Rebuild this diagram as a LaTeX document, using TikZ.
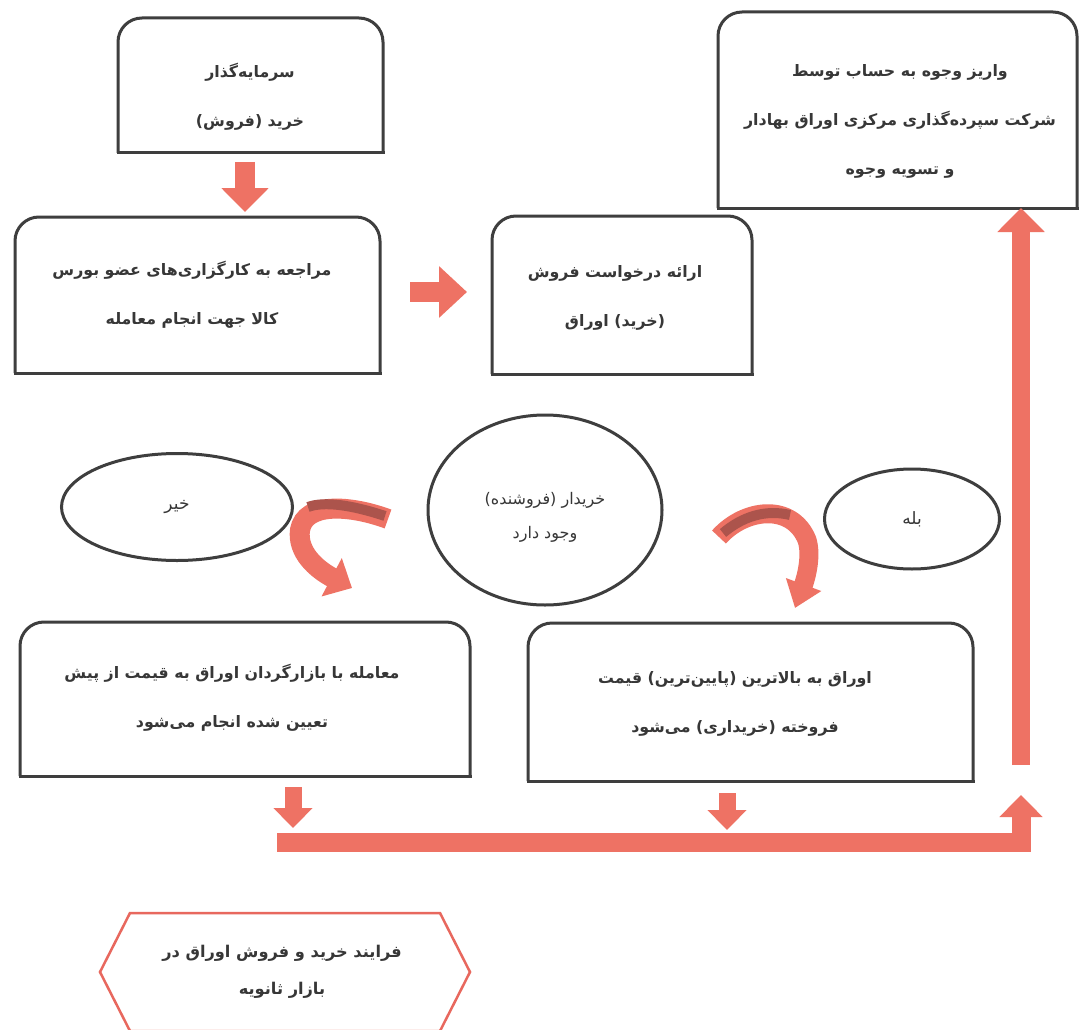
\documentclass[tikz,border=0pt]{standalone}
\usepackage{fontspec}
\newfontfamily\fa[Script=Arabic]{DejaVu Sans}
\TeXXeTstate=1
\usetikzlibrary{shapes.geometric,arrows.meta}
\definecolor{arr}{RGB}{238,114,100}
\definecolor{arrdark}{RGB}{172,84,76}
\definecolor{edgegray}{RGB}{62,62,62}
\definecolor{hexred}{RGB}{232,104,94}
\definecolor{inkgray}{RGB}{55,55,55}
\newcommand\R[1]{\beginR #1\endR}
\newcommand\toprounded[1]{%
  \draw[boxline, line cap=rect] (#1.south west) -- (#1.south east);
  \draw[boxline, rounded corners=24pt] (#1.south west) -- (#1.north west) -- (#1.north east) -- (#1.south east);}
\begin{document}
\begin{tikzpicture}[x=1pt,y=-1pt,
  boxshape/.style={rectangle, draw=none, inner sep=0pt, outer sep=0pt},
  boxline/.style={draw=edgegray, line width=3pt},
  txt/.style={font=\fa\bfseries\fontsize{15.8}{49}\selectfont, align=center, text=inkgray, inner sep=0pt},
  ell/.style={ellipse, draw=edgegray, line width=3pt, inner sep=0pt, align=center, text=inkgray, font=\fa\fontsize{16}{34}\selectfont},
  blk/.style={draw=arr, line join=miter},
  curvy/.style={draw=arr, line width=20pt},
  darkband/.style={draw=arrdark, line width=10pt},
  hexline/.style={draw=hexred, line width=2.5pt, line join=miter}]
\useasboundingbox (0,0) rectangle (1079,1030);
\fill[white] (0,0) rectangle (1079,1030);

% boxes
\node[boxshape, minimum width=265pt, minimum height=135pt] (b1) at (250.5,85.5) {};
\node[boxshape, minimum width=359pt, minimum height=196pt] (b2) at (897.5,110) {};
\node[boxshape, minimum width=365pt, minimum height=156pt] (b3) at (197.5,295) {};
\node[boxshape, minimum width=260pt, minimum height=158pt] (b4) at (622,295) {};
\node[boxshape, minimum width=450pt, minimum height=154pt] (b5) at (245,699) {};
\node[boxshape, minimum width=445pt, minimum height=158pt] (b6) at (750.5,702) {};
\toprounded{b1}
\toprounded{b2}
\toprounded{b3}
\toprounded{b4}
\toprounded{b5}
\toprounded{b6}

% box texts
\node[txt] (t1) at (250,97) {\R{سرمایه‌گذار}\\\R{خرید (فروش)}};
\node[txt] (t2) at (900,121) {\R{واریز وجوه به حساب توسط}\\\R{شرکت سپرده‌گذاری مرکزی اوراق بهادار}\\\R{و تسویه وجوه}};
\node[txt] (t3) at (192,295) {\R{مراجعه به کارگزاری‌های عضو بورس}\\\R{کالا جهت انجام معامله}};
\node[txt] (t4) at (615,298) {\R{ارائه درخواست فروش}\\\R{(خرید) اوراق}};
\node[txt] (t5) at (232,698) {\R{معامله با بازارگردان اوراق به قیمت از پیش}\\\R{تعیین شده انجام می‌شود}};
\node[txt] (t6) at (735,704) {\R{اوراق به بالاترین (پایین‌ترین) قیمت}\\\R{فروخته (خریداری) می‌شود}};

% ellipses
\node[ell, minimum width=231pt, minimum height=107pt, font=\fa\fontsize{17}{34}\selectfont] (e1) at (177,507) {\R{خیر}};
\node[ell, minimum width=234pt, minimum height=190pt] (e2) at (545,510) {};
\node[inner sep=0pt, align=center, text=inkgray, font=\fa\fontsize{16}{34}\selectfont] (e2t) at (545,517) {\R{خریدار (فروشنده)}\\\R{وجود دارد}};
\node[ell, minimum width=175pt, minimum height=100pt, font=\fa\fontsize{17}{34}\selectfont] (e3) at (912,519) {\R{بله}};

% hexagon
\node[boxshape, minimum width=310pt, minimum height=118pt, align=center, text=inkgray,
  font=\fa\bfseries\fontsize{16.2}{37}\selectfont] (hex) at (282,972) {\R{فرایند خرید و فروش اوراق در}\\\R{بازار ثانویه}};
\draw[hexline] ([xshift=3pt]hex.north west) -- ([xshift=3pt]hex.north east) -- ([xshift=33pt]hex.east) -- ([xshift=3pt]hex.south east)
  -- ([xshift=3pt]hex.south west) -- ([xshift=-27pt]hex.west) -- cycle;

% block arrows
\coordinate (a1s) at (245,162);
\coordinate (a1e) at (245,212);
\draw[blk, line width=20pt, -{Triangle[width=46pt,length=24pt]}] (a1s) -- (a1e);
\coordinate (a2s) at (410,292);
\coordinate (a2e) at (467,292);
\draw[blk, line width=20pt, -{Triangle[width=50pt,length=28pt]}] (a2s) -- (a2e);
\coordinate (a3s) at (293,787);
\coordinate (a3e) at (293,828);
\draw[blk, line width=17pt, -{Triangle[width=38pt,length=20pt]}] (a3s) -- (a3e);
\coordinate (a4s) at (727,793);
\coordinate (a4e) at (727,830);
\draw[blk, line width=17pt, -{Triangle[width=38pt,length=20pt]}] (a4s) -- (a4e);
\coordinate (barL) at (277,842);
\coordinate (barC) at (1021,842);
\coordinate (barT) at (1021,795);
\draw[blk, line width=19pt, -{Triangle[width=42pt,length=22pt]}] (barL) -- (barC) -- (barT);
\coordinate (upS) at (1021,765);
\draw[blk, line width=18pt, -{Triangle[width=46pt,length=24pt]}] (upS) -- (b2.south -| upS);

% curved arrows
\coordinate (c1s) at (388,519);
\coordinate (c1e) at (352,588);
\draw[curvy, -{Triangle[width=42pt,length=23pt]}] (c1s) .. controls (350,505) and (305,502) .. (300,530)
  .. controls (297,552) and (316,569) .. (c1e);
\draw[darkband] (385,516) .. controls (352,505) and (324,501) .. (308,507);
\coordinate (c2s) at (719,537);
\coordinate (c2e) at (795,608);
\draw[curvy, line width=19pt, -{Triangle[width=36pt,length=25pt]}] (c2s) .. controls (745,508) and (792,503) .. (807,540)
  .. controls (812,556) and (806,578) .. (c2e);
\draw[darkband] (723,533) .. controls (742,517) and (765,509) .. (790,515);
\end{tikzpicture}
\end{document}
